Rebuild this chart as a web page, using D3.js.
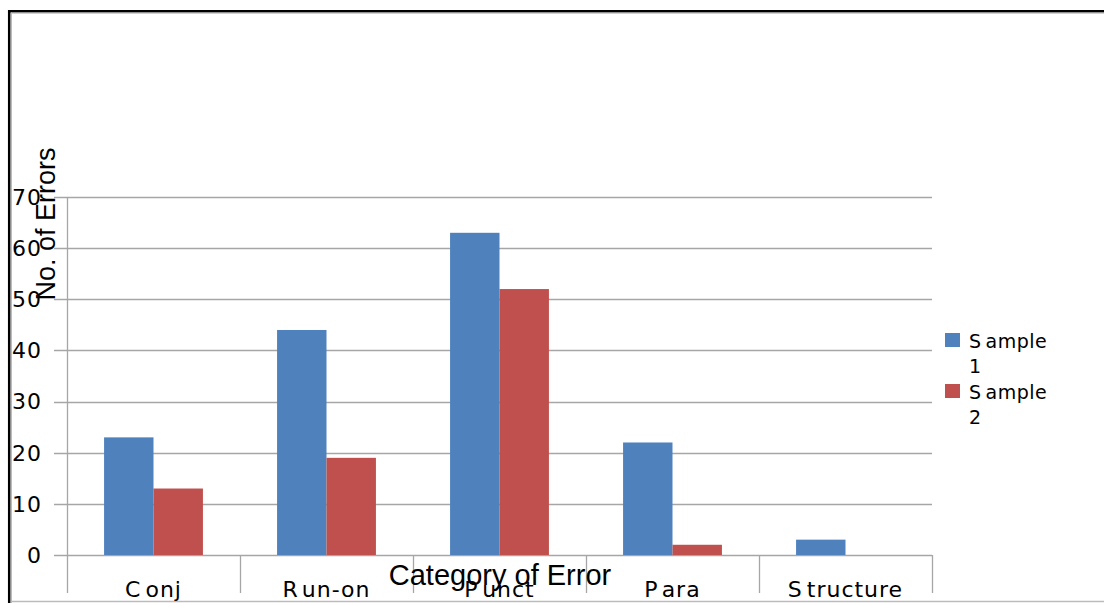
<!DOCTYPE html>
<html>
<head>
<meta charset="utf-8">
<script src="https://cdn.jsdelivr.net/npm/d3@7"></script>
<style>
  html, body { margin: 0; padding: 0; background: #fff; }
  svg { display: block; }
</style>
</head>
<body>
<svg id="chart" width="1104" height="603"></svg>
<script>
// Error counts per category for the two writing samples
const categories = ["Conj", "Run-on", "Punct", "Para", "Structure"];
const sample1 = [23, 44, 63, 22, 3];
const sample2 = [13, 19, 52, 2, 0];
const seriesNames = ["Sample 1", "Sample 2"];
const yTicks = [0, 10, 20, 30, 40, 50, 60, 70];

const colors = ["#4F81BD", "#C0504D"];
const tickFont = "'DejaVu Sans', sans-serif";
const titleFont = "'Liberation Sans', Arial, sans-serif";

const svg = d3.select("#chart");
const W = 1104, H = 603;

// frame around the chart area
svg.append("line").attr("x1", 9.2).attr("x2", 9.2).attr("y1", 10).attr("y2", H)
  .attr("stroke", "#000").attr("stroke-width", 2.5);
svg.append("line").attr("x1", 8).attr("x2", W).attr("y1", 11.2).attr("y2", 11.2)
  .attr("stroke", "#000").attr("stroke-width", 2.5);
svg.append("line").attr("x1", 11.5).attr("x2", 11.5).attr("y1", 12.5).attr("y2", H)
  .attr("stroke", "#bbb").attr("stroke-width", 1);
svg.append("line").attr("x1", 11).attr("x2", W).attr("y1", 13.2).attr("y2", 13.2)
  .attr("stroke", "#bbb").attr("stroke-width", 1);
svg.append("line").attr("x1", 11).attr("x2", W).attr("y1", 601.5).attr("y2", 601.5)
  .attr("stroke", "#bbb").attr("stroke-width", 1.5);

const plot = { left: 67, right: 932, top: 197, bottom: 555 };

const x = d3.scaleBand().domain(categories).range([plot.left, plot.right]).paddingInner(0).paddingOuter(0);
const x1 = d3.scaleBand().domain(seriesNames).range([0, x.bandwidth()]).paddingOuter(0.75).paddingInner(0);
const y = d3.scaleLinear().domain([0, 70]).range([plot.bottom, plot.top]);

// horizontal gridlines with outward ticks
const grid = svg.append("g");
grid.selectAll("line").data(yTicks).join("line")
  .attr("x1", plot.left - 13).attr("x2", plot.right)
  .attr("y1", d => Math.round(y(d)) + 0.5).attr("y2", d => Math.round(y(d)) + 0.5)
  .attr("stroke", "#a6a6a6").attr("stroke-width", 1.3);

// value axis line
svg.append("line").attr("x1", plot.left + 0.5).attr("x2", plot.left + 0.5)
  .attr("y1", plot.top).attr("y2", 593)
  .attr("stroke", "#a6a6a6").attr("stroke-width", 1.3);

// category separators below the baseline
const seps = d3.range(categories.length + 1).map(i => plot.left + i * x.bandwidth());
svg.append("g").selectAll("line").data(seps.slice(1)).join("line")
  .attr("x1", d => d + 0.5).attr("x2", d => d + 0.5)
  .attr("y1", plot.bottom).attr("y2", 593)
  .attr("stroke", "#a6a6a6").attr("stroke-width", 1.3);

// y tick labels
svg.append("g").selectAll("text").data(yTicks).join("text")
  .attr("x", 42).attr("y", d => y(d))
  .attr("dy", "0.36em")
  .attr("text-anchor", "end")
  .attr("font-family", tickFont).attr("font-size", 22)
  .attr("letter-spacing", "1px")
  .attr("fill", "#000")
  .text(d => d);

// bars
const rows = categories.map((c, i) => ({ cat: c, vals: [sample1[i], sample2[i]] }));
const groups = svg.append("g").selectAll("g").data(rows).join("g")
  .attr("transform", d => `translate(${x(d.cat)},0)`);
groups.selectAll("rect").data(d => d.vals.map((v, j) => ({ v, s: seriesNames[j], j })))
  .join("rect")
  .attr("x", d => x1(d.s))
  .attr("width", x1.bandwidth())
  .attr("y", d => y(d.v))
  .attr("height", d => y(0) - y(d.v))
  .attr("fill", d => colors[d.j]);

// category labels: the first letter sits slightly apart from the rest
const catLabels = svg.append("g").selectAll("text").data(categories).join("text")
  .attr("x", d => x(d) + x.bandwidth() / 2)
  .attr("y", 597)
  .attr("text-anchor", "middle")
  .attr("font-family", tickFont).attr("font-size", 22)
  .attr("letter-spacing", "1px")
  .attr("fill", "#000");
catLabels.append("tspan").text(d => d[0]);
catLabels.append("tspan").attr("dx", 4).text(d => d.slice(1));

// axis titles
svg.append("text")
  .attr("transform", "translate(55,224) rotate(-90)")
  .attr("text-anchor", "middle")
  .attr("font-family", titleFont).attr("font-size", 27)
  .attr("fill", "#000")
  .text("No. of Errors");

svg.append("text")
  .attr("x", 500).attr("y", 585)
  .attr("text-anchor", "middle")
  .attr("font-family", titleFont).attr("font-size", 29)
  .attr("fill", "#000")
  .text("Category of Error");

// legend
const legend = svg.append("g");
const legendItems = legend.selectAll("g").data(seriesNames).join("g")
  .attr("transform", (d, i) => `translate(945,${333 + i * 51})`);
legendItems.append("rect").attr("width", 15).attr("height", 14)
  .attr("fill", (d, i) => colors[i]);
const lt = legendItems.append("text")
  .attr("font-family", tickFont).attr("font-size", 19)
  .attr("letter-spacing", "0.5px")
  .attr("fill", "#000");
lt.append("tspan").attr("x", 24).attr("y", 15).text(d => d.split(" ")[0][0]);
lt.append("tspan").attr("dx", 4).text(d => d.split(" ")[0].slice(1));
lt.append("tspan").attr("x", 24).attr("y", 40).text(d => d.split(" ")[1]);
</script>
</body>
</html>
